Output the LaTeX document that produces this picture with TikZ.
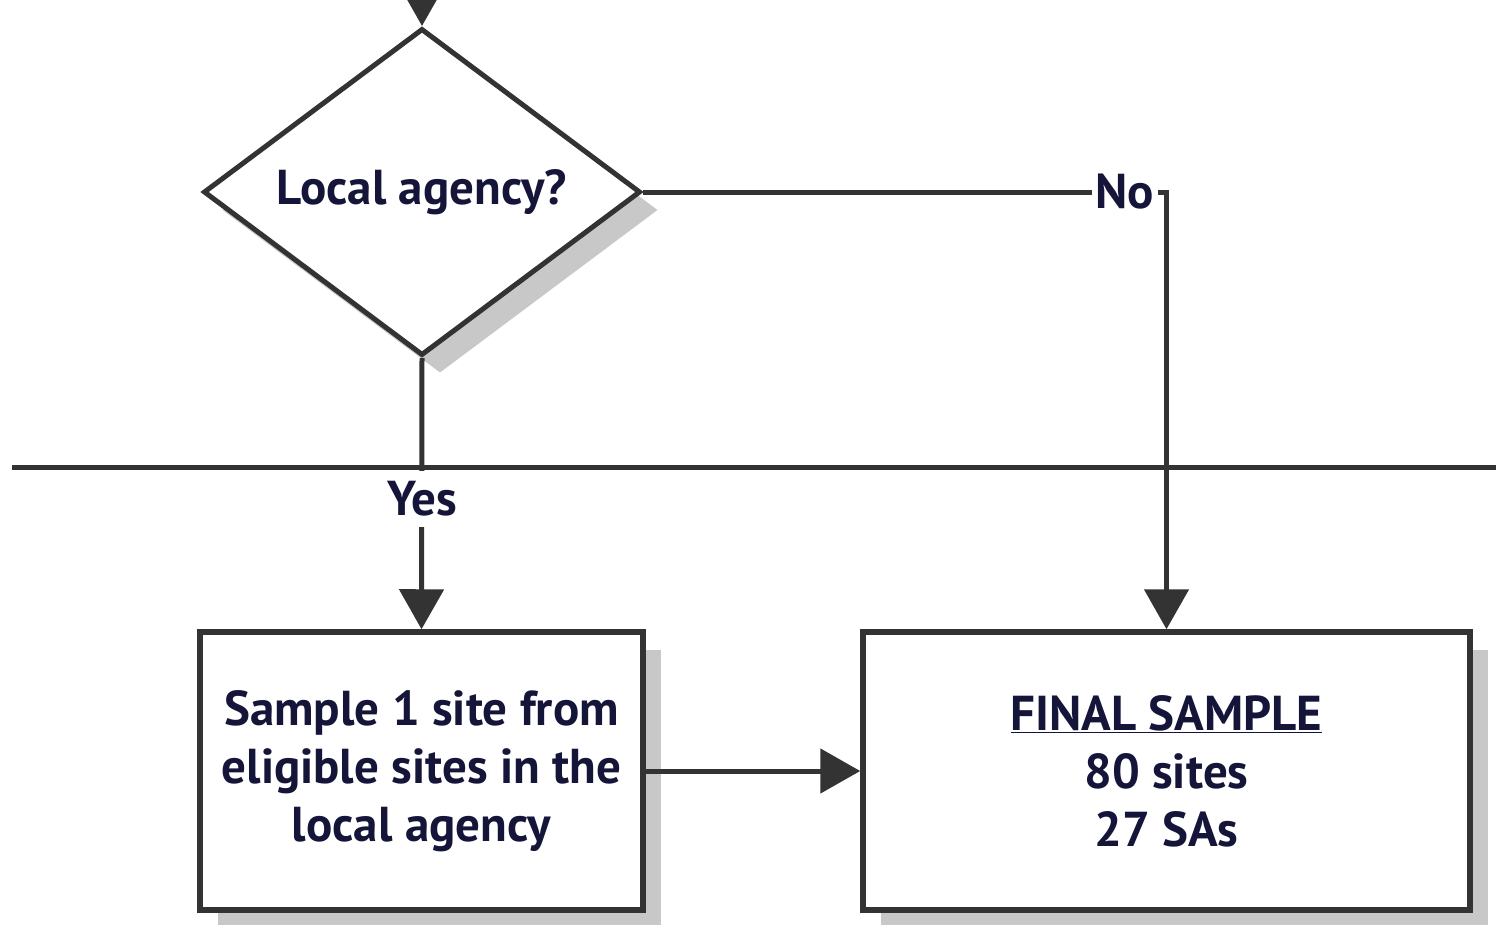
\documentclass[tikz,border=0pt]{standalone}
\usepackage{fontspec}
\setmainfont{PT Sans}
\usetikzlibrary{shapes.geometric,arrows.meta,shadows,calc}
\definecolor{ink}{HTML}{15153A}
\definecolor{linec}{HTML}{333333}
\definecolor{shade}{HTML}{C8C8C8}
\begin{document}
\begin{tikzpicture}[x=1pt,y=-1pt,
  every node/.style={font=\fontsize{49}{58}\selectfont\bfseries, text=ink},
  conn/.style={draw=linec, line width=5pt},
  arr/.style={conn, -{Triangle[length=40pt,width=44pt]}},
  shad/.style={drop shadow={shadow xshift=18pt, shadow yshift=-18pt, fill=shade, opacity=1}},
  boxnode/.style={draw=linec, line width=5.5pt, fill=white, shad, minimum height=278pt, align=center, inner sep=0pt},
  lbl/.style={fill=white, inner xsep=4pt, inner ysep=0pt, minimum height=56pt}
]
\useasboundingbox (0,0) rectangle (1496,924);
\begin{scope}
\clip (0,0) rectangle (1496,924);
\node[draw=linec, line width=5pt, fill=white, shad, shape=diamond, aspect=1.336, minimum width=437pt, minimum height=327pt, inner sep=0pt] (d) at (422,192) {\raisebox{-4pt}{Local agency?}};
\node[boxnode, minimum width=443pt] (sb) at (421.5,771) {Sample 1 site from\\eligible sites in the\\local agency};
\node[boxnode, minimum width=607pt] (fb) at (1166.5,771) {\underline{FINAL SAMPLE}\\80 sites\\27 SAs};
\coordinate (top) at (422,-40);
\coordinate (hl) at (12,467);
\coordinate (hr) at (1500,467);
\draw[arr] (top) -- (d.north);
\draw[conn] (hl) -- (hr);
\draw[arr] (d.east) -- (d.east -| fb.north) -- (fb.north);
\node[lbl] (no) at (1125,192) {No};
\draw[arr] (d.south) -- (sb.north);
\node[lbl] (yes) at (422,499) {Yes};
\draw[arr] (sb.east) -- (fb.west);
\end{scope}
\end{tikzpicture}
\end{document}
